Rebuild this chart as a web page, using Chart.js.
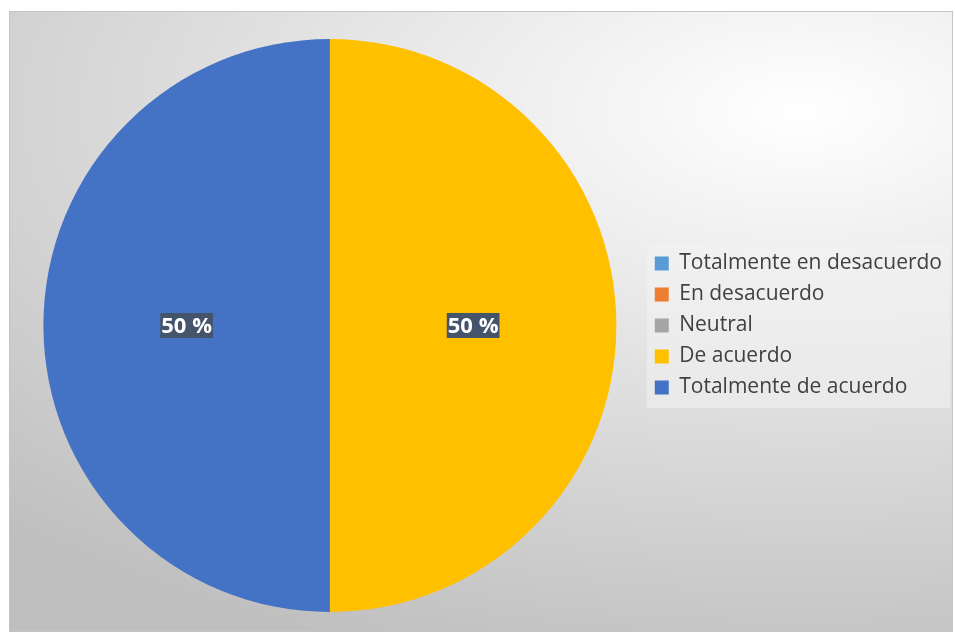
<!DOCTYPE html>
<html>
<head>
    <title>Grado de acuerdo</title>
    <script src="https://cdn.jsdelivr.net/npm/chart.js@4.4.0/dist/chart.umd.min.js"></script>
    <style>
        body {
            margin: 0;
            background: #ffffff;
        }
        .chart-box {
            position: absolute;
            left: 9px;
            top: 11px;
            width: 944px;
            height: 621px;
            box-sizing: border-box;
            border: 1px solid #c4c4c4;
            background: radial-gradient(ellipse 1150px 580px at 84% 16%, #ffffff 0%, #bfbfbf 100%);
        }
        canvas { display: block; }
    </style>
</head>
<body>
    <div class="chart-box"><canvas id="pieChart" width="942" height="619"></canvas></div>

    <script>
        const categories = ['Totalmente en desacuerdo', 'En desacuerdo', 'Neutral', 'De acuerdo', 'Totalmente de acuerdo'];
        const values = [0, 0, 0, 50, 50];
        const colors = ['#5B9BD5', '#ED7D31', '#A5A5A5', '#FFC000', '#4472C4'];

        // light panel behind the legend entries
        const legendPanel = {
            id: 'legendPanel',
            beforeDraw(chart) {
                const boxes = chart.legend && chart.legend.legendHitBoxes;
                if (!boxes || !boxes.length) return;
                const first = boxes[0], last = boxes[boxes.length - 1];
                const left = first.left - 8;
                const top = first.top - 9;
                const right = Math.max(...boxes.map(b => b.left + b.width)) + 8;
                const bottom = last.top + last.height + 10;
                const ctx = chart.ctx;
                ctx.save();
                ctx.fillStyle = 'rgba(242, 242, 242, 0.55)';
                ctx.fillRect(left, top, right - left, bottom - top);
                ctx.restore();
            }
        };

        // percentage labels on dark boxes at the middle of each slice
        const sliceLabels = {
            id: 'sliceLabels',
            afterDatasetsDraw(chart) {
                const ctx = chart.ctx;
                const data = chart.data.datasets[0].data;
                const total = data.reduce((a, b) => a + b, 0);
                const meta = chart.getDatasetMeta(0);
                ctx.save();
                ctx.font = 'bold 22px "Open Sans", sans-serif';
                ctx.textAlign = 'center';
                ctx.textBaseline = 'middle';
                meta.data.forEach((arc, i) => {
                    if (!data[i]) return;
                    const pos = arc.tooltipPosition();
                    const text = Math.round(data[i] / total * 100) + ' %';
                    const w = ctx.measureText(text).width + 2;
                    const h = 25;
                    ctx.fillStyle = '#44546A';
                    ctx.fillRect(pos.x - w / 2, pos.y - h / 2, w, h);
                    ctx.fillStyle = '#ffffff';
                    ctx.fillText(text, pos.x, pos.y + 1);
                });
                ctx.restore();
            }
        };

        new Chart(document.getElementById('pieChart'), {
            type: 'pie',
            data: {
                labels: categories,
                datasets: [{
                    data: values,
                    backgroundColor: colors,
                    borderWidth: 0
                }]
            },
            options: {
                responsive: false,
                animation: false,
                layout: { padding: { left: 5, right: 0, top: 27, bottom: 19 } },
                plugins: {
                    legend: {
                        position: 'right',
                        labels: {
                            boxWidth: 14,
                            boxHeight: 14,
                            padding: 10,
                            color: '#404040',
                            font: { family: 'Open Sans', size: 21 }
                        }
                    },
                    tooltip: { enabled: false }
                }
            },
            plugins: [legendPanel, sliceLabels]
        });
    </script>
</body>
</html>
